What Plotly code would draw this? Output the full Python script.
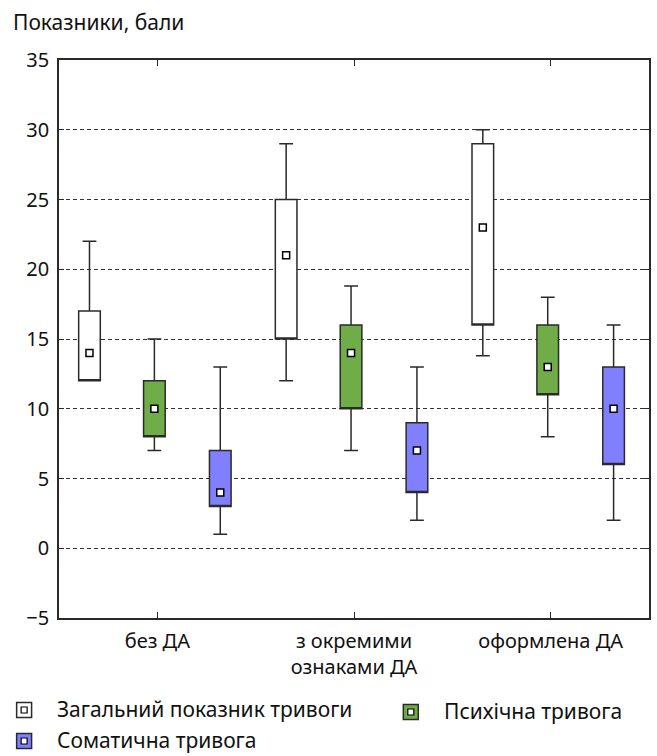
import plotly.graph_objects as go

categories = ["без ДА", "з окремими<br>ознаками ДА", "оформлена ДА"]
series_names = ["Загальний показник тривоги", "Психічна тривога", "Соматична тривога"]

# per series: [group0, group1, group2]
total_min = [12, 12, 13.8]
total_q1 = [12, 15, 16]
total_q3 = [17, 25, 29]
total_max = [22, 29, 30]
total_mean = [14, 21, 23]

psych_min = [7, 7, 8]
psych_q1 = [8, 10, 11]
psych_q3 = [12, 16, 16]
psych_max = [15, 18.8, 18]
psych_mean = [10, 14, 13]

soma_min = [1, 2, 2]
soma_q1 = [3, 4, 6]
soma_q3 = [7, 9, 13]
soma_max = [13, 13, 16]
soma_mean = [4, 7, 10]

y_ticks = [-5, 0, 5, 10, 15, 20, 25, 30, 35]

colors = ["#ffffff", "#70ac47", "#8080ff"]
offsets = [-0.345, -0.015, 0.32]
FONT = "Noto Sans"
EDGE = "#2a2a2a"

stats = [
    (total_min, total_q1, total_q3, total_max, total_mean),
    (psych_min, psych_q1, psych_q3, psych_max, psych_mean),
    (soma_min, soma_q1, soma_q3, soma_max, soma_mean),
]

fig = go.Figure()
for i, (mn, q1, q3, mx, mean) in enumerate(stats):
    xs = [k + offsets[i] for k in range(len(categories))]
    fig.add_trace(go.Box(
        x=xs, q1=q1, median=q1, q3=q3, lowerfence=mn, upperfence=mx,
        width=0.11, whiskerwidth=0.64,
        fillcolor=colors[i], line=dict(color=EDGE, width=1.5),
        name=series_names[i], showlegend=False, hoverinfo="skip",
    ))
    fig.add_trace(go.Scatter(
        x=xs, y=mean, mode="markers",
        marker=dict(symbol="square", size=7, color="white",
                    line=dict(color="black", width=1.5)),
        showlegend=False, hoverinfo="skip",
    ))

# plot area geometry in px
L, R, T, B = 59, 657 - 651, 60, 756 - 618
W = 657 - L - R
H = 756 - T - B

def px(x):
    return (x - L) / W

def py(y):
    return (756 - B - y) / H

# manual legend
legend_items = [(24, 710, 0, 55), (412, 712, 1, 443), (24, 741, 2, 55)]
for cx, cy, idx, tx in legend_items:
    s = 7.5
    fig.add_shape(type="rect", xref="paper", yref="paper",
                  x0=px(cx - s), x1=px(cx + s), y0=py(cy + s), y1=py(cy - s),
                  fillcolor=colors[idx], line=dict(color=EDGE, width=1.5))
    si = 3
    fig.add_shape(type="rect", xref="paper", yref="paper",
                  x0=px(cx - si), x1=px(cx + si), y0=py(cy + si), y1=py(cy - si),
                  fillcolor="white", line=dict(color="black", width=1.2))
    fig.add_annotation(text=series_names[idx], xref="paper", yref="paper",
                       x=px(tx), y=py(cy - 1), xanchor="left", yanchor="middle",
                       showarrow=False, font=dict(family=FONT, size=21, color="#111"))

fig.add_annotation(text="Показники, бали", xref="paper", yref="paper",
                   x=px(11), y=py(22), xanchor="left", yanchor="middle",
                   showarrow=False, font=dict(family=FONT, size=21, color="#111"))

fig.update_layout(
    width=657, height=756,
    margin=dict(l=L, r=R, t=T, b=B, pad=0),
    paper_bgcolor="white", plot_bgcolor="white",
    font=dict(family=FONT, size=21, color="#111"),
    boxmode="overlay",
)
fig.update_xaxes(
    range=[-0.5, 2.5], tickvals=[0, 1, 2], ticktext=categories,
    showgrid=False, zeroline=False,
    showline=True, linecolor=EDGE, linewidth=1.5, mirror="ticks",
    ticks="inside", ticklen=6, tickcolor=EDGE, tickwidth=1.2,
    tickfont=dict(family=FONT, size=20, color="#111"),
    ticklabelstandoff=4,
)
fig.update_yaxes(
    range=[-5, 35], tickvals=y_ticks,
    showgrid=True, gridcolor="#333", griddash="4px,3px", gridwidth=1,
    zeroline=False,
    showline=True, linecolor=EDGE, linewidth=1.5, mirror="ticks",
    ticks="inside", ticklen=5, tickcolor=EDGE, tickwidth=1.2,
    tickfont=dict(family=FONT, size=20, color="#111"),
    ticklabelstandoff=4,
)

fig.write_html("out.html", config={"displayModeBar": False},
               post_script="document.body.style.margin='0';")
